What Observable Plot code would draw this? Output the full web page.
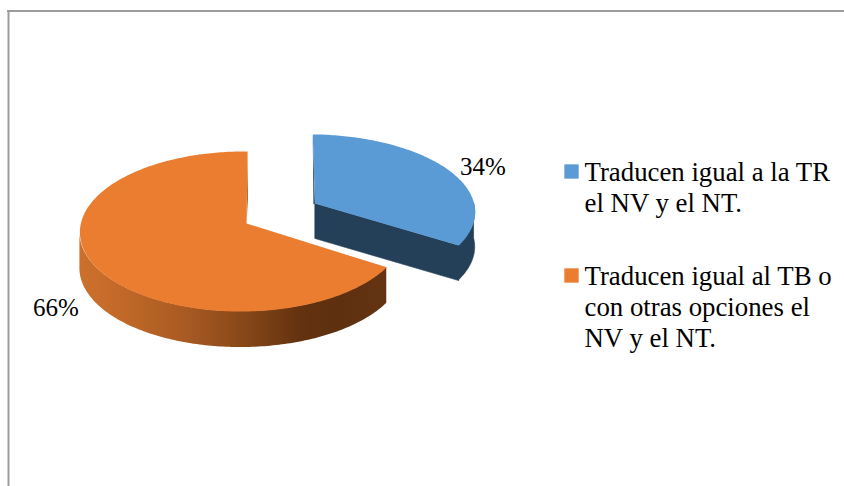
<!DOCTYPE html>
<html>
<head>
<meta charset="utf-8">
<script src="https://cdn.jsdelivr.net/npm/d3@7"></script>
<script src="https://cdn.jsdelivr.net/npm/@observablehq/plot@0.6"></script>
<style>
  html, body { margin: 0; padding: 0; background: #fff; }
  svg { display: block; }
</style>
</head>
<body>
<div id="chart"></div>
<script>
// Survey shares
const categories = [
  "Traducen igual a la TR\nel NV y el NT.",
  "Traducen igual al TB o\ncon otras opciones el\nNV y el NT."
];
const shares = [34, 66];
const shareLabels = ["34%", "66%"];

// Face and wall colours per slice
const faceColors = ["#5b9bd5", "#eb7d31"];
const wallColors = ["#243f58", "url(#orangeWall)"];

// Projection of the tilted disc, in page units
const W = 844, H = 486;
const centre = {x: 246, y: 223};
const radiusX = 161.5, radiusY = 79.2, perspectiveV = 0.1, perspectiveU = 0.025;

// The first slice is pulled out of the pie and sits slightly further back
const placement = [
  {dx: 68.5, dy: -20, sx: 1.01, sy: 0.96, lean: -2.5, depth: 35},
  {dx: 0, dy: 0, sx: 1, sy: 1, lean: 1.2, depth: 36}
];

function project(angle, r, p) {
  const u = Math.sin(angle) * r, v = Math.cos(angle) * r;
  const w = 1 + perspectiveV * v + perspectiveU * u;
  return {
    x: centre.x + p.dx + (p.sx * radiusX * u + p.lean * v) / w,
    y: centre.y + p.dy - p.sy * radiusY * v / w
  };
}

function rim(a0, a1, p) {
  const n = Math.max(2, Math.ceil(Math.abs(a1 - a0) * 60));
  return d3.range(n + 1).map(i => project(a0 + (a1 - a0) * i / n, 1, p));
}

const arcs = d3.pie().sort(null)(shares);

// Flat top of each slice: apex, then along the rim
const faces = arcs.map((a, i) => [project(0, 0, placement[i]), ...rim(a.startAngle, a.endAngle, placement[i])]);

// Outer walls: the part of the rim facing the viewer
const blueArc = arcs[0], orangeArc = arcs[1];
const blueWall = rim(Math.PI / 2, blueArc.endAngle, placement[0]);
const orangeWall = rim(orangeArc.startAngle, 1.5 * Math.PI - 0.09, placement[1]);

// Cut wall of the pulled-out slice, and the slivers along each upright edge
const blueApex = project(0, 0, placement[0]);
const blueEnd = project(blueArc.endAngle, 1, placement[0]);
const blueStart = project(0, 1, placement[0]);
const orangeApex = project(0, 0, placement[1]);
const orangeTop = project(2 * Math.PI, 1, placement[1]);
const down = (pt, d) => ({x: pt.x, y: pt.y + d});
const blueCut = [blueApex, blueEnd, down(blueEnd, placement[0].depth), down(blueApex, placement[0].depth)];
const blueSliver = [blueStart, blueApex, {x: blueApex.x - 1.6, y: blueApex.y + 1}];
const orangeSliver = [orangeTop, orangeApex, {x: orangeApex.x + 1.5, y: orangeApex.y - 25}];

// Gradient for the long curved wall
const gradientStops = [
  [0, "#cc702c"], [0.12, "#c46a29"], [0.35, "#a85a22"], [0.55, "#854618"],
  [0.72, "#63320f"], [0.85, "#5e3010"], [1, "#643412"]
];
function wallGradient() {
  const defs = d3.create("svg:defs");
  const g = defs.append("linearGradient").attr("id", "orangeWall")
    .attr("x1", "0").attr("x2", "1").attr("y1", "0").attr("y2", "0");
  for (const [o, c] of gradientStops) g.append("stop").attr("offset", o).attr("stop-color", c);
  return defs.node();
}

const polygon = (pts, fill, stroke = "none") => Plot.line(pts, {x: "x", y: "y", fill, stroke, strokeWidth: 0.6, curve: "linear-closed"});
const wall = (pts, fill, d, stroke = "none") => Plot.areaY(pts, {x: "x", y1: "y", y2: p => p.y + d, fill, stroke, strokeWidth: 0.6, curve: "linear"});

// Label and legend anchors
const pctLabels = [{x: 482.5, y: 166}, {x: 55.5, y: 307}].map((p, i) => ({...p, text: shareLabels[i]}));
const legendRows = categories.map((text, i) => ({
  text, color: faceColors[i], x: 584, y: [158.5, 263][i], sx: 571, sy: [171, 275][i]
}));

const fontFamily = "'Liberation Serif', 'Times New Roman', serif";

const plot = Plot.plot({
  width: W,
  height: H,
  margin: 0,
  x: {domain: [0, W], range: [0, W], axis: null},
  y: {domain: [0, H], range: [0, H], axis: null},
  marks: [
    wallGradient,
    // Frame lines of the chart area
    Plot.ruleY([10.5], {x1: 7, x2: W, stroke: "#9c9c9c", strokeWidth: 2}),
    Plot.ruleX([8], {y1: 10, y2: H, stroke: "#9c9c9c", strokeWidth: 2}),
    // Orange slice
    wall(orangeWall, wallColors[1], placement[1].depth),
    polygon(orangeSliver, "#b4682c"),
    polygon(faces[1], faceColors[1]),
    // Blue slice; the thin outline closes the seam between its two walls
    polygon(blueCut, wallColors[0], wallColors[0]),
    wall(blueWall, wallColors[0], placement[0].depth, wallColors[0]),
    polygon(blueSliver, "#2f4f6e"),
    polygon(faces[0], faceColors[0]),
    // Percentages
    Plot.text(pctLabels, {x: "x", y: "y", text: "text", fontSize: 25, fontFamily, fill: "#000", textAnchor: "middle"}),
    // Legend
    Plot.dot(legendRows, {x: "sx", y: "sy", symbol: "square", r: 8.1, fill: "color", stroke: "none"}),
    Plot.text(legendRows, {x: "x", y: "y", text: "text", fontSize: 26.8, lineHeight: 1.155, lineAnchor: "top", textAnchor: "start", fontFamily, fill: "#000"})
  ]
});

document.getElementById("chart").append(plot);
</script>
</body>
</html>
